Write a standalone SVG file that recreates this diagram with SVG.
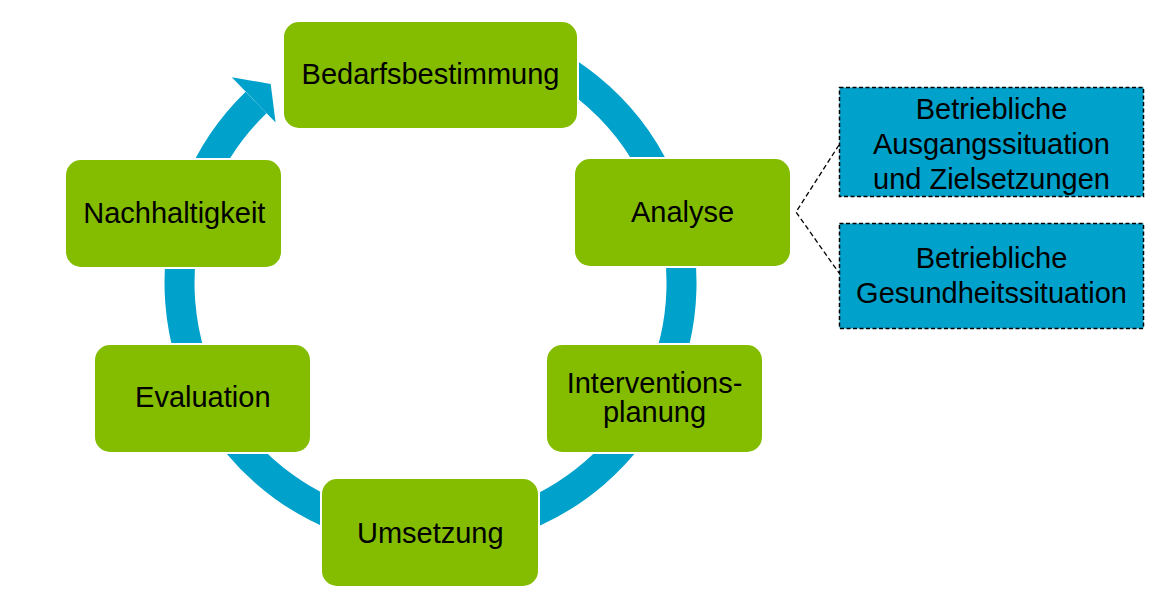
<svg xmlns="http://www.w3.org/2000/svg" width="1170" height="604" viewBox="0 0 1170 604">
  <style>
    .node { fill: #84BD00; stroke: #ffffff; stroke-width: 4; paint-order: stroke fill; }
    .label { font-family: "Liberation Sans", Arial, sans-serif; font-size: 29px; fill: #000000; text-anchor: middle; }
    .info { fill: #00A1CB; stroke: #000000; stroke-width: 1.5; stroke-dasharray: 4 2.5; }
    .ring { fill: none; stroke: #00A1CB; stroke-width: 30; stroke-linecap: butt; }
    .dash { fill: none; stroke: #000000; stroke-width: 1.3; stroke-dasharray: 5 3; }
  </style>
  <rect width="1170" height="604" fill="#ffffff"/>
  <g id="connectors">
    <path class="ring" d="M 495.5 40.55 A 251 251 0 1 1 256.1 102.5"/>
    <polygon points="231.8,77.3 270.7,84 275.6,122.6" fill="#00A1CB"/>
    <polyline class="dash" points="839,145 796,212 839,273"/>
  </g>
  <g id="node-bedarfsbestimmung">
    <rect class="node" x="284" y="22" width="293" height="106" rx="15"/>
    <text class="label" x="430.5" y="84">Bedarfsbestimmung</text>
  </g>
  <g id="node-analyse">
    <rect class="node" x="575" y="159" width="215" height="107" rx="15"/>
    <text class="label" x="682.5" y="222">Analyse</text>
  </g>
  <g id="node-interventionsplanung">
    <rect class="node" x="547" y="345" width="215" height="107" rx="15"/>
    <text class="label" x="654.5" y="392.7">Interventions-</text>
    <text class="label" x="654.5" y="421.7">planung</text>
  </g>
  <g id="node-umsetzung">
    <rect class="node" x="322" y="479" width="216" height="107" rx="15"/>
    <text class="label" x="430.3" y="542.7">Umsetzung</text>
  </g>
  <g id="node-evaluation">
    <rect class="node" x="95" y="345" width="215" height="107" rx="15"/>
    <text class="label" x="202.8" y="406.7">Evaluation</text>
  </g>
  <g id="node-nachhaltigkeit">
    <rect class="node" x="66" y="160" width="215" height="107" rx="15"/>
    <text class="label" x="174.3" y="222.7">Nachhaltigkeit</text>
  </g>
  <g id="node-ausgangssituation">
    <rect class="info" x="839.5" y="87.5" width="304" height="109"/>
    <text class="label" x="991.5" y="118.5">Betriebliche</text>
    <text class="label" x="991.5" y="153.5">Ausgangssituation</text>
    <text class="label" x="991.5" y="188.5">und Zielsetzungen</text>
  </g>
  <g id="node-gesundheitssituation">
    <rect class="info" x="839.5" y="223.5" width="304" height="105"/>
    <text class="label" x="991.5" y="268.3">Betriebliche</text>
    <text class="label" x="991.5" y="303.3">Gesundheitssituation</text>
  </g>
</svg>
